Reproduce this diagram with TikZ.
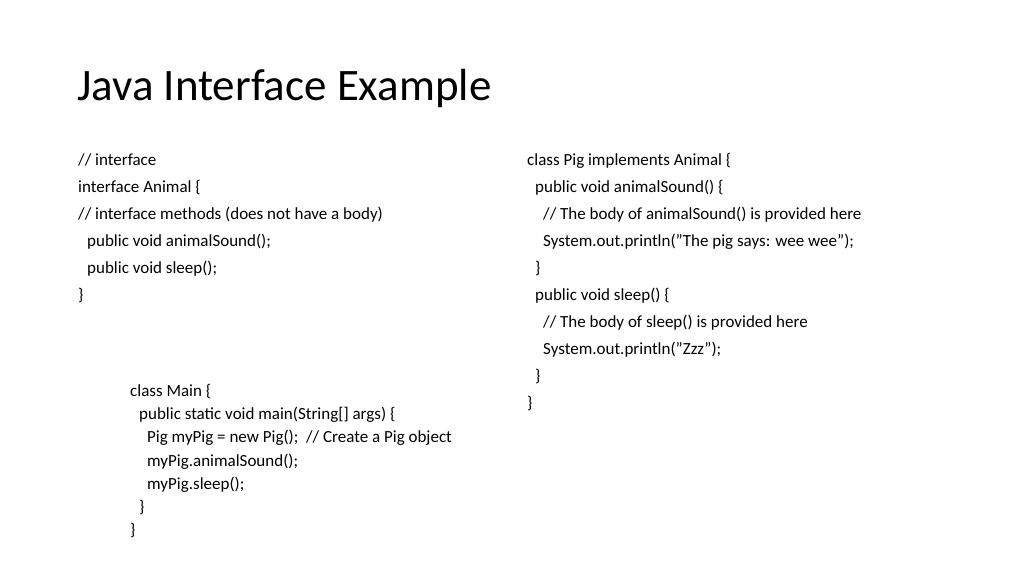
\documentclass[tikz,border=0pt]{standalone}
\usepackage{fontspec}
\setmainfont{Carlito}
\newcommand{\ind}[1]{\hspace*{#1pt}}
\begin{document}
\begin{tikzpicture}
    [x=1pt,y=-1pt,
     code/.style={anchor=north west,inner sep=0pt,align=left,font=\fontsize{17}{27}\selectfont},
     maincode/.style={code,font=\fontsize{17}{23.2}\selectfont}]
    \useasboundingbox (0,0) rectangle (1024,576);
    \node [anchor=base west,inner sep=0pt,font=\fontsize{45}{50}\selectfont] (title) at (77,100) {Java Interface Example};
    \node [code] (iface) at (78,153) {// interface\\
      interface Animal \{\\
      // interface methods (does not have a body)\\
      \ind{9}public void animalSound();\\
      \ind{9}public void sleep();\\
      \}};
    \node [code] (pig) at (527,153) {class Pig implements Animal \{\\
      \ind{8}public void animalSound() \{\\
      \ind{16}// The body of animalSound() is provided here\\
      \ind{16}System.out.println("The pig says: wee wee");\\
      \ind{8}\}\\
      \ind{8}public void sleep() \{\\
      \ind{16}// The body of sleep() is provided here\\
      \ind{16}System.out.println("Zzz");\\
      \ind{8}\}\\
      \}};
    \node [maincode] (main) at (130,384) {class Main \{\\
      \ind{9}public static void main(String[] args) \{\\
      \ind{17}Pig myPig = new Pig();\ \ // Create a Pig object\\
      \ind{17}myPig.animalSound();\\
      \ind{17}myPig.sleep();\\
      \ind{9}\}\\
      \}};
  \end{tikzpicture}
\end{document}
